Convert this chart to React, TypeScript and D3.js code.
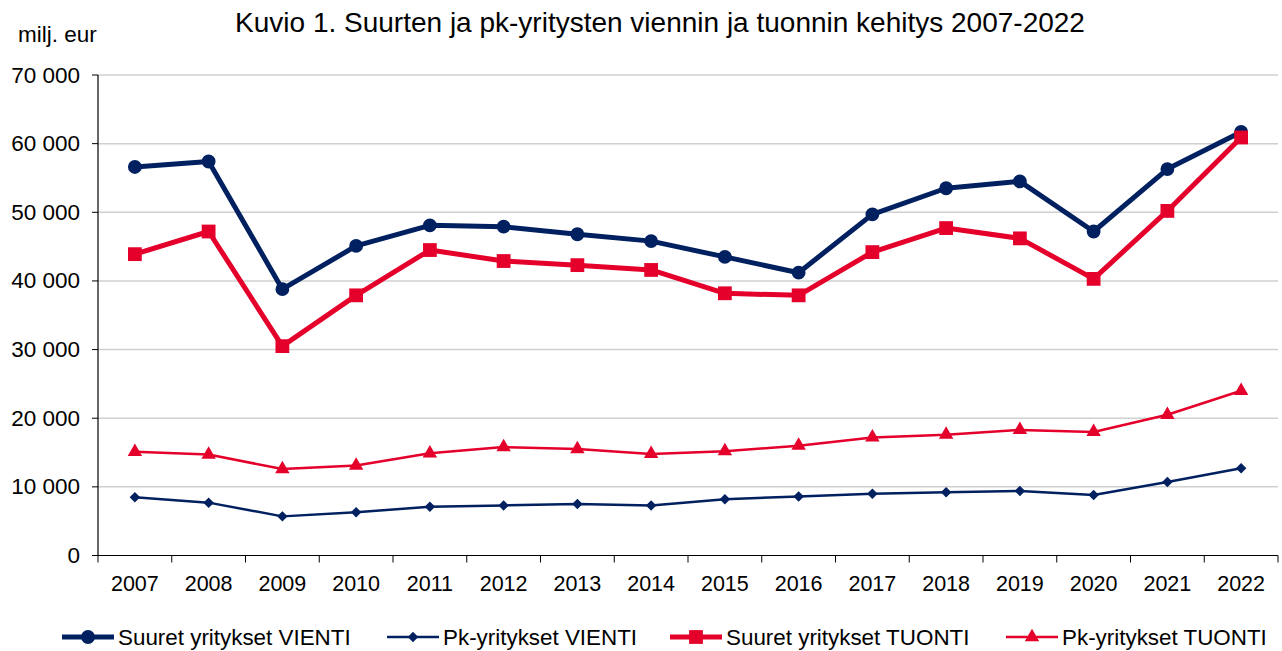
import React from "react";
import * as d3 from "d3";

const years = ["2007","2008","2009","2010","2011","2012","2013","2014","2015","2016","2017","2018","2019","2020","2021","2022"];
const suuretVienti = [56600,57400,38800,45100,48100,47900,46800,45800,43500,41200,49700,53500,54500,47200,56300,61700];
const pkVienti = [8500,7700,5700,6300,7100,7300,7500,7300,8200,8600,9000,9200,9400,8800,10700,12700];
const suuretTuonti = [43900,47200,30500,37900,44500,42900,42300,41600,38200,37900,44200,47700,46200,40300,50200,60900];
const pkTuonti = [15100,14700,12600,13100,14900,15800,15500,14800,15200,16000,17200,17600,18300,18000,20500,24000];
const yTicks = [0,10000,20000,30000,40000,50000,60000,70000];

const NAVY = "#002060";
const RED = "#e4002b";
const FONT = "'Liberation Sans', Arial, sans-serif";

type Series = { name: string; values: number[]; color: string; width: number; marker: string; size: number };
const series: Series[] = [
  { name: "Suuret yritykset VIENTI", values: suuretVienti, color: NAVY, width: 5, marker: "circle", size: 150 },
  { name: "Pk-yritykset VIENTI", values: pkVienti, color: NAVY, width: 2.5, marker: "diamond", size: 70 },
  { name: "Suuret yritykset TUONTI", values: suuretTuonti, color: RED, width: 5, marker: "square", size: 190 },
  { name: "Pk-yritykset TUONTI", values: pkTuonti, color: RED, width: 2.5, marker: "triangle", size: 90 },
];

const symbolFor = (m: string) =>
  m === "circle" ? d3.symbolCircle : m === "diamond" ? d3.symbolDiamond2 : m === "square" ? d3.symbolSquare : d3.symbolTriangle;

const fmt = (v: number) => String(v).replace(/\B(?=(\d{3})+(?!\d))/g, " ");

export default function App() {
  const W = 1282, H = 651;
  const left = 98, right = 1278, top = 75, bottom = 555.5;
  const x = d3.scaleBand<string>().domain(years).range([left, right]);
  const y = d3.scaleLinear().domain([0, 70000]).range([bottom, top]);
  const cx = (i: number) => (x(years[i]) as number) + x.bandwidth() / 2;
  const line = (vals: number[]) =>
    d3.line<number>().x((_, i) => cx(i)).y((v) => y(v))(vals) as string;

  const legendX = [62, 387, 670, 1006];

  return (
    <svg width={W} height={H} style={{ position: "absolute", left: 0, top: 0, background: "#fff" }}>
      <rect width={W} height={H} fill="#fff" />
      <text x={660} y={32} textAnchor="middle" fontFamily={FONT} fontSize={28} fill="#000">
        Kuvio 1. Suurten ja pk-yritysten viennin ja tuonnin kehitys 2007-2022
      </text>
      <text x={18} y={42} fontFamily={FONT} fontSize={22.5} fill="#000">milj. eur</text>

      {yTicks.map((t) => (
        <g key={t}>
          {t > 0 && <line x1={left} x2={right} y1={y(t)} y2={y(t)} stroke="#d0d0d0" strokeWidth={1.5} />}
          <line x1={left - 6} x2={left} y1={y(t)} y2={y(t)} stroke="#000" strokeWidth={1} />
          <text x={left - 18} y={y(t) + 7.5} textAnchor="end" fontFamily={FONT} fontSize={22.5} fill="#000">
            {fmt(t)}
          </text>
        </g>
      ))}
      <line x1={left} x2={left} y1={top} y2={bottom} stroke="#000" strokeWidth={1.2} />
      <line x1={left} x2={right} y1={bottom} y2={bottom} stroke="#000" strokeWidth={1.2} />
      {years.map((yr, i) => (
        <g key={yr}>
          <line x1={x(yr) as number} x2={x(yr) as number} y1={bottom} y2={bottom + 7} stroke="#000" strokeWidth={1} />
          <text x={cx(i)} y={bottom + 35} textAnchor="middle" fontFamily={FONT} fontSize={21.5} fill="#000">{yr}</text>
        </g>
      ))}
      <line x1={right} x2={right} y1={bottom} y2={bottom + 7} stroke="#000" strokeWidth={1} />

      {series.map((s) => (
        <g key={s.name}>
          <path d={line(s.values)} fill="none" stroke={s.color} strokeWidth={s.width} strokeLinejoin="round" />
          {s.values.map((v, i) => (
            <path key={i} transform={`translate(${cx(i)},${y(v)})`} d={d3.symbol().type(symbolFor(s.marker)).size(s.size)() as string} fill={s.color} />
          ))}
        </g>
      ))}

      {series.map((s, k) => (
        <g key={s.name} transform={`translate(${legendX[k]},637)`}>
          <line x1={0} x2={52} y1={0} y2={0} stroke={s.color} strokeWidth={s.width} />
          <path transform="translate(26,0)" d={d3.symbol().type(symbolFor(s.marker)).size(s.size)() as string} fill={s.color} />
          <text x={56} y={7.5} fontFamily={FONT} fontSize={22.4} fill="#000">{s.name}</text>
        </g>
      ))}
    </svg>
  );
}
